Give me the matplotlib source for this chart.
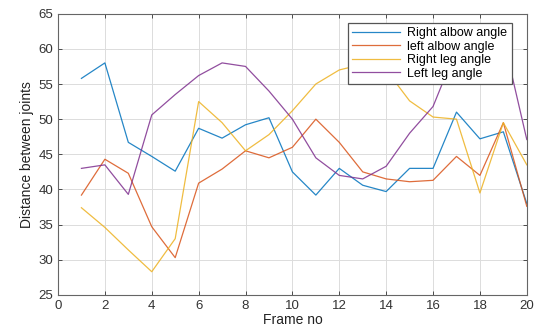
import matplotlib
matplotlib.use("Agg")
import matplotlib.pyplot as plt

plt.rcParams['font.family'] = ['Liberation Sans', 'DejaVu Sans']

frames = list(range(1, 21))
right_elbow = [55.8, 58.0, 46.7, 44.7, 42.6, 48.7, 47.3, 49.2, 50.2, 42.5,
               39.2, 43.0, 40.6, 39.7, 43.0, 43.0, 51.0, 47.2, 48.2, 38.0]
left_elbow = [39.2, 44.3, 42.3, 34.7, 30.3, 40.9, 42.9, 45.5, 44.5, 46.0,
              50.0, 46.7, 42.5, 41.5, 41.1, 41.3, 44.7, 42.0, 49.5, 37.6]
right_leg = [37.4, 34.6, 31.4, 28.3, 33.0, 52.5, 49.5, 45.5, 47.8, 51.2,
             55.0, 57.0, 57.8, 57.0, 52.6, 50.3, 50.0, 39.5, 49.5, 43.5]
left_leg = [43.0, 43.5, 39.3, 50.6, 53.5, 56.2, 58.0, 57.5, 54.0, 50.0,
            44.5, 42.0, 41.5, 43.3, 48.0, 51.8, 60.0, 59.0, 61.5, 47.1]
labels = ['Right albow angle', 'left albow angle', 'Right leg angle', 'Left leg angle']
colors = ['#0072BD', '#D95319', '#EDB120', '#7E2F8E']
xticks = list(range(0, 21, 2))
yticks = list(range(25, 66, 5))

fig = plt.figure(figsize=(5.37, 3.34), dpi=100)
ax = fig.add_axes([0.108, 0.117, 0.873, 0.842])
for ys, lab, c in zip([right_elbow, left_elbow, right_leg, left_leg], labels, colors):
    ax.plot(frames, ys, color=c, lw=0.9, label=lab, alpha=0.85)

ax.set_xlim(0, 20)
ax.set_ylim(25, 65)
ax.set_xticks(xticks)
ax.set_yticks(yticks)
ax.grid(True, color='#dcdcdc', lw=0.7)
ax.set_axisbelow(True)
ax.tick_params(direction='in', top=True, right=True, labelsize=9.5,
               colors='#333333', length=3, width=0.6)
for s in ax.spines.values():
    s.set_color('#666666')
    s.set_linewidth(0.8)
ax.set_xlabel('Frame no', fontsize=10, color='#222222', labelpad=1)
ax.set_ylabel('Distance between joints', fontsize=10, color='#222222', labelpad=3)

leg = ax.legend(loc='upper right', bbox_to_anchor=(0.968, 0.968), fontsize=9,
                frameon=True, fancybox=False, borderpad=0.35, labelspacing=0.12,
                handlelength=3.8, handletextpad=0.6, borderaxespad=0)
leg.get_frame().set_edgecolor('#555555')
leg.get_frame().set_linewidth(0.9)
leg.get_frame().set_alpha(1)

fig.savefig('out.png', dpi=100)
